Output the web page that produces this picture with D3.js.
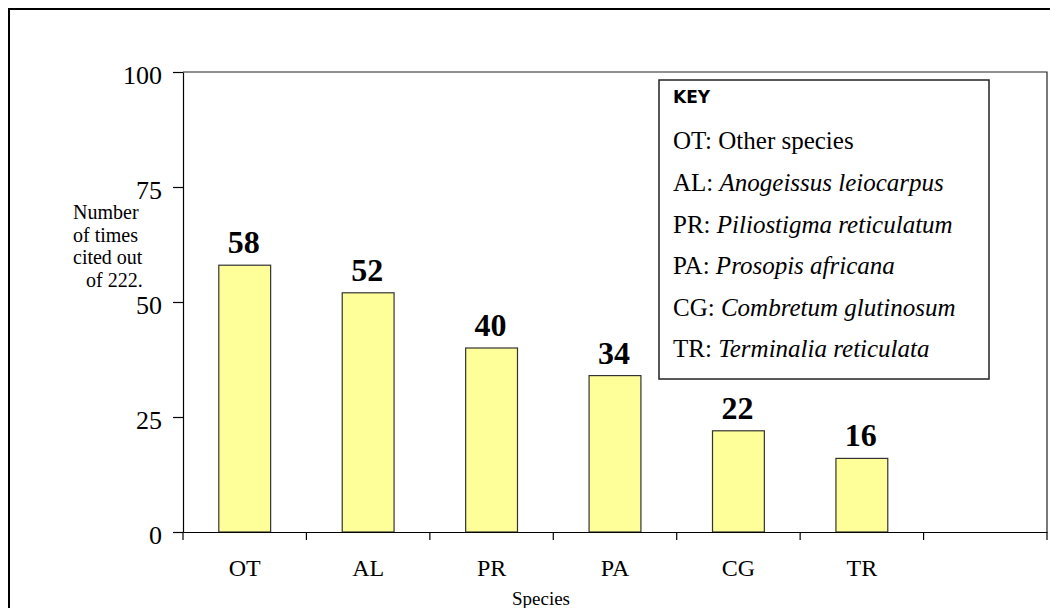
<!DOCTYPE html>
<html>
<head>
<meta charset="utf-8">
<script src="https://cdn.jsdelivr.net/npm/d3@7"></script>
<style>
  body { margin: 0; background: #fff; }
  text { font-family: "Liberation Serif", "Times New Roman", serif; fill: #000; }
</style>
</head>
<body>
<div id="chart-area"></div>
<script>
// data
var species = ["OT", "AL", "PR", "PA", "CG", "TR"];
var counts = [58, 52, 40, 34, 22, 16];
var yTicks = [0, 25, 50, 75, 100];
var keyCodes = ["OT", "AL", "PR", "PA", "CG", "TR"];
var keyNames = ["Other species", "Anogeissus leiocarpus", "Piliostigma reticulatum",
                "Prosopis africana", "Combretum glutinosum", "Terminalia reticulata"];
var keyItalic = [false, true, true, true, true, true];
var yTitle = ["Number", "of times", "cited out", "of 222."];

var W = 1050, H = 608;
var plotL = 183, plotR = 1047, plotT = 72, plotB = 532;

var svg = d3.select("#chart-area").append("svg")
    .attr("width", W)
    .attr("height", H);

// outer frame (runs off the bottom / right of the picture)
svg.append("rect")
    .attr("x", 9).attr("y", 9)
    .attr("width", 1100).attr("height", 700)
    .attr("fill", "none")
    .attr("stroke", "#000")
    .attr("stroke-width", 2);

// scales: 7 slots, last one empty
var slots = species.concat([""]);
var x = d3.scaleBand().domain(slots).range([plotL, plotR]).padding(0);
var y = d3.scaleLinear().domain([0, 100]).range([plotB, plotT]);
var barW = x.bandwidth() * 0.42;

// plot box top + right
svg.append("path")
    .attr("d", "M" + plotL + "," + plotT + "H" + plotR + "V" + plotB)
    .attr("fill", "none")
    .attr("stroke", "#222")
    .attr("stroke-width", 1.2);

// bars
svg.selectAll(".bar")
    .data(species)
    .enter().append("rect")
    .attr("class", "bar")
    .attr("x", function(d){ return x(d) + (x.bandwidth() - barW) / 2; })
    .attr("y", function(d, i){ return y(counts[i]); })
    .attr("width", barW)
    .attr("height", function(d, i){ return plotB - y(counts[i]); })
    .attr("fill", "#FFFF99")
    .attr("stroke", "#333")
    .attr("stroke-width", 1.2);

// value labels
svg.selectAll(".val")
    .data(species)
    .enter().append("text")
    .attr("class", "val")
    .attr("x", function(d){ return x(d) + x.bandwidth() / 2 - 1; })
    .attr("y", function(d, i){ return y(counts[i]) - 12; })
    .attr("text-anchor", "middle")
    .attr("font-size", "32px")
    .attr("font-weight", "bold")
    .text(function(d, i){ return counts[i]; });

// y axis
var yAxis = svg.append("g")
    .attr("transform", "translate(" + plotL + ",0)")
    .call(d3.axisLeft(y).tickValues(yTicks).tickSize(10).tickSizeOuter(0).tickPadding(11));
yAxis.selectAll("text")
    .attr("font-family", "Liberation Serif")
    .attr("font-size", "26px")
    .attr("dy", "0.45em")
    .attr("fill", "#000");
yAxis.selectAll("line, path").attr("stroke", "#000").attr("stroke-width", 1.2);

// x axis: labels at band centres, ticks at band edges
var xAxis = svg.append("g")
    .attr("transform", "translate(0," + plotB + ")")
    .call(d3.axisBottom(x).tickSize(0).tickSizeOuter(0));
xAxis.selectAll("text")
    .attr("font-family", "Liberation Serif")
    .attr("font-size", "24px")
    .attr("y", 44)
    .attr("dy", 0)
    .attr("fill", "#000");
xAxis.select(".domain").attr("stroke", "#000").attr("stroke-width", 1.2);

var edges = slots.map(function(d){ return x(d); }).concat([plotR]);
xAxis.selectAll(".edge")
    .data(edges)
    .enter().append("line")
    .attr("class", "edge")
    .attr("x1", function(d){ return d; })
    .attr("x2", function(d){ return d; })
    .attr("y1", 0)
    .attr("y2", 8)
    .attr("stroke", "#000")
    .attr("stroke-width", 1.2);

// axis titles
svg.append("text")
    .attr("x", 541)
    .attr("y", 605)
    .attr("text-anchor", "middle")
    .attr("font-size", "19px")
    .text("Species");

var yT = svg.append("text").attr("font-size", "20px");
yT.selectAll("tspan")
    .data(yTitle)
    .enter().append("tspan")
    .attr("x", function(d, i){ return i === 3 ? 86 : 73; })
    .attr("y", function(d, i){ return 219 + i * 22.7; })
    .text(function(d){ return d; });

// key box
var key = svg.append("g");
key.append("rect")
    .attr("x", 659).attr("y", 80)
    .attr("width", 330).attr("height", 299)
    .attr("fill", "#fff")
    .attr("stroke", "#222")
    .attr("stroke-width", 1.5);
key.append("text")
    .attr("x", 673).attr("y", 103)
    .attr("font-weight", "bold")
    .attr("font-size", "17px")
    .style("font-family", "DejaVu Sans")
    .text("KEY");

var rows = key.selectAll(".row")
    .data(keyCodes)
    .enter().append("text")
    .attr("class", "row")
    .attr("x", 673)
    .attr("y", function(d, i){ return 149.3 + i * 41.6; })
    .attr("font-size", "25px");
rows.append("tspan").text(function(d){ return d + ": "; });
rows.append("tspan")
    .attr("font-style", function(d, i){ return keyItalic[i] ? "italic" : "normal"; })
    .text(function(d, i){ return keyNames[i]; });
</script>
</body>
</html>
